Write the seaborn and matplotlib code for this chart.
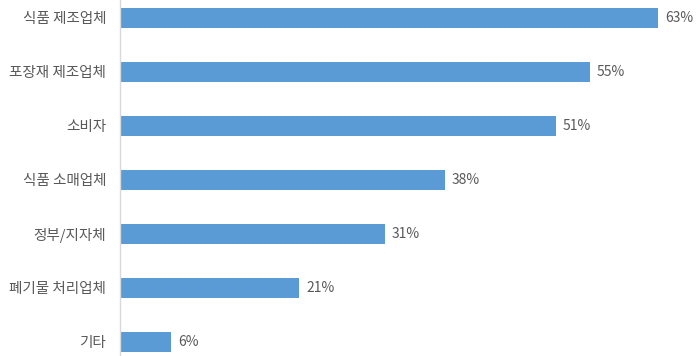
import matplotlib
matplotlib.use("Agg")
import matplotlib.pyplot as plt
import pandas as pd
import seaborn as sns

categories = ["식품 제조업체", "포장재 제조업체", "소비자", "식품 소매업체",
              "정부/지자체", "폐기물 처리업체", "기타"]
values = [63, 55, 51, 38, 31, 21, 6]

df = pd.DataFrame({"category": categories, "value": values})

sns.set_style("white")
plt.rcParams["font.family"] = ["Noto Sans CJK KR", "DejaVu Sans"]

fig = plt.figure(figsize=(6.98, 3.56), dpi=100)
ax = fig.add_axes([120 / 698, 0, 578 / 698, 1])

sns.barplot(data=df, x="value", y="category", color="#5B9BD5",
            saturation=1, width=0.37, linewidth=0, ax=ax)

for i, v in enumerate(values):
    ax.text(v + 0.8, i, f"{v}%", va="center", ha="left",
            fontsize=10, color="#595959")

ax.set_xlim(0, 578 / 8.54)
ax.set_ylim(6.26, -0.333)
ax.set_xlabel("")
ax.set_ylabel("")
ax.set_xticks([])
ax.tick_params(axis="y", length=0, pad=10, labelsize=10.5, labelcolor="#595959")
for side in ["top", "right", "bottom"]:
    ax.spines[side].set_visible(False)
ax.spines["left"].set_color("#D9D9D9")
ax.spines["left"].set_linewidth(1)

fig.savefig("out.png", dpi=100)
